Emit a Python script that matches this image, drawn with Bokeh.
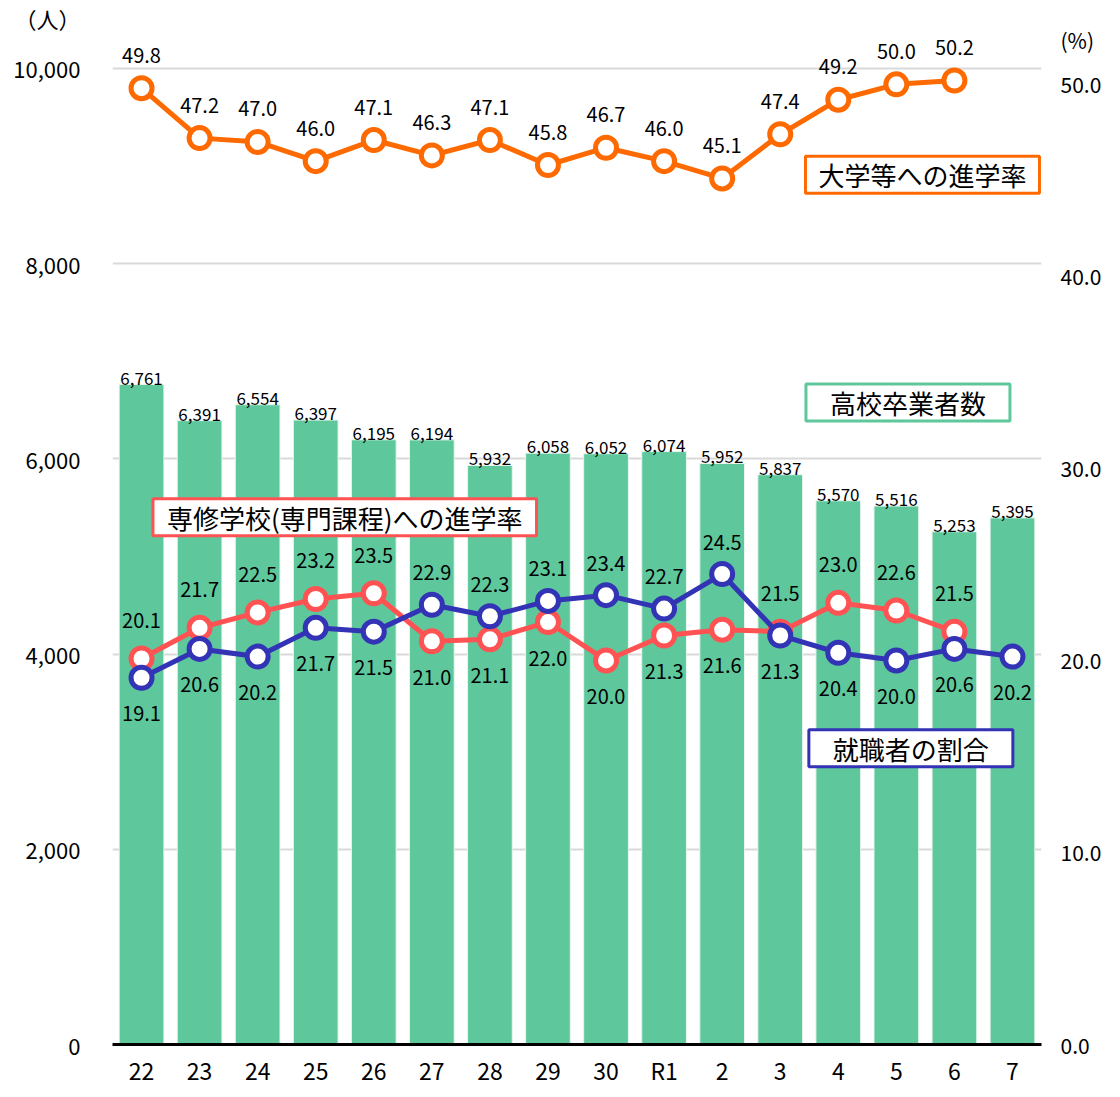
from bokeh.plotting import figure
from bokeh.models import (FactorRange, Range1d, LinearAxis, NumeralTickFormatter,
                          ColumnDataSource, LabelSet, Label, FixedTicker)
from bokeh.core.properties import value
from bokeh.embed import file_html
from bokeh.resources import INLINE

years = ["22", "23", "24", "25", "26", "27", "28", "29", "30", "R1", "2", "3", "4", "5", "6", "7"]
graduates = [6761, 6391, 6554, 6397, 6195, 6194, 5932, 6058, 6052, 6074, 5952, 5837, 5570, 5516, 5253, 5395]
univ_rate = [49.8, 47.2, 47.0, 46.0, 47.1, 46.3, 47.1, 45.8, 46.7, 46.0, 45.1, 47.4, 49.2, 50.0, 50.2]
senshu_rate = [20.1, 21.7, 22.5, 23.2, 23.5, 21.0, 21.1, 22.0, 20.0, 21.3, 21.6, 21.5, 23.0, 22.6, 21.5]
job_rate = [19.1, 20.6, 20.2, 21.7, 21.5, 22.9, 22.3, 23.1, 23.4, 22.7, 24.5, 21.3, 20.4, 20.0, 20.6, 20.2]
left_ticks = [0, 2000, 4000, 6000, 8000, 10000]
right_ticks = [0, 10, 20, 30, 40, 50]
left_unit = "（人）"
right_unit = "(%)"

FONT = "Noto Sans CJK JP"
GREEN = "#5EC89C"
ORANGE = "#FF6A00"
RED = "#FF5252"
BLUE = "#3333B5"

# frame reaches up near the top edge so the labels of the top line are not clipped
LEFT_MAX = 10613
RIGHT_MAX = 53.95
LEFT_UNIT_POS = 10511
RIGHT_UNIT_POS = 52.3

p = figure(x_range=FactorRange(*years), y_range=Range1d(0, LEFT_MAX),
           width=1104, height=1089, output_backend="svg", toolbar_location=None,
           min_border_left=112, min_border_right=61, min_border_top=8, min_border_bottom=43)
p.extra_y_ranges = {"pct": Range1d(0, RIGHT_MAX)}
p.outline_line_color = None
p.background_fill_color = "white"
p.border_fill_color = "white"
p.xgrid.grid_line_color = None
p.ygrid.grid_line_color = "#D9D9D9"
p.ygrid.grid_line_width = 2
p.ygrid.ticker = FixedTicker(ticks=left_ticks)

# left axis (unit caption shown as an extra labelled tick)
p.yaxis.ticker = FixedTicker(ticks=left_ticks + [LEFT_UNIT_POS])
p.yaxis.formatter = NumeralTickFormatter(format="0,0")
p.yaxis.major_label_overrides = {LEFT_UNIT_POS: left_unit}
p.yaxis.axis_line_color = None
p.yaxis.major_tick_line_color = None
p.yaxis.minor_tick_line_color = None
p.yaxis.major_tick_out = 0
p.yaxis.major_tick_in = 0
p.yaxis.minor_tick_out = 0
p.yaxis.major_label_text_font = FONT
p.yaxis.major_label_text_font_size = "22px"
p.yaxis.major_label_text_color = "black"
p.yaxis.major_label_standoff = 32

# x axis
p.xaxis.axis_line_color = "black"
p.xaxis.axis_line_width = 3
p.xaxis.major_tick_line_color = None
p.xaxis.minor_tick_line_color = None
p.xaxis.major_tick_out = 0
p.xaxis.major_tick_in = 0
p.xaxis.major_label_text_font = FONT
p.xaxis.major_label_text_font_size = "23px"
p.xaxis.major_label_text_color = "black"
p.xaxis.major_label_standoff = 8

# right axis
ra = LinearAxis(y_range_name="pct", ticker=FixedTicker(ticks=right_ticks + [RIGHT_UNIT_POS]),
                formatter=NumeralTickFormatter(format="0.0"))
ra.major_label_overrides = {RIGHT_UNIT_POS: right_unit}
ra.axis_line_color = None
ra.major_tick_line_color = None
ra.minor_tick_line_color = None
ra.major_tick_out = 0
ra.major_tick_in = 0
ra.minor_tick_out = 0
ra.major_label_text_font = FONT
ra.major_label_text_font_size = "21px"
ra.major_label_text_color = "black"
ra.major_label_standoff = 19
p.add_layout(ra, "right")

# bars
bar_src = ColumnDataSource(dict(year=years, n=graduates, lab=[f"{v:,}" for v in graduates]))
p.vbar(x="year", top="n", width=0.77, source=bar_src, fill_color=GREEN,
       line_color="#E6F6EE", line_width=1)
p.add_layout(LabelSet(x="year", y="n", text="lab", source=bar_src, text_align="center",
                      text_baseline="bottom", y_offset=0, text_font=value(FONT),
                      text_font_size="17px", text_color="black"))

# lines
def series(x, y, color):
    src = ColumnDataSource(dict(x=x, y=y, lab=[f"{v:.1f}" for v in y]))
    p.line("x", "y", source=src, y_range_name="pct", line_color=color, line_width=5)
    p.scatter("x", "y", source=src, y_range_name="pct", size=21, fill_color="white",
              line_color=color, line_width=5)
    return src

up_src = series(years[:15], univ_rate, ORANGE)
sen_src = series(years[:15], senshu_rate, RED)
job_src = series(years, job_rate, BLUE)

p.add_layout(LabelSet(x="x", y="y", text="lab", source=up_src, y_range_name="pct",
                      text_align="center", text_baseline="middle", y_offset=33,
                      text_font=value(FONT), text_font_size="20px", text_color="black"))

# red/blue labels: the higher series of the pair is labelled above, the lower below
sen_up = dict(x=[], y=[], lab=[])
sen_dn = dict(x=[], y=[], lab=[])
job_up = dict(x=[], y=[], lab=[])
job_dn = dict(x=[], y=[], lab=[])
for i, yr in enumerate(years):
    j = job_rate[i]
    if i < len(senshu_rate):
        s = senshu_rate[i]
        tgt = sen_up if s >= j else sen_dn
        tgt["x"].append(yr); tgt["y"].append(s); tgt["lab"].append(f"{s:.1f}")
        tgt = job_dn if s >= j else job_up
    else:
        tgt = job_dn
    tgt["x"].append(yr); tgt["y"].append(j); tgt["lab"].append(f"{j:.1f}")

for d, off in [(sen_up, 38), (sen_dn, -36), (job_up, 32), (job_dn, -36)]:
    p.add_layout(LabelSet(x="x", y="y", text="lab", source=ColumnDataSource(d),
                          y_range_name="pct", text_align="center", text_baseline="middle",
                          y_offset=off, text_font=value(FONT), text_font_size="20px",
                          text_color="black"))

# legend boxes
def box(text, x, y, color, padx):
    p.add_layout(Label(x=x, y=y, text=text, text_align="center", text_baseline="middle",
                       text_font=FONT, text_font_size="26px", text_color="black",
                       background_fill_color="white", border_line_color=color,
                       border_line_width=3,
                       padding=dict(left=padx, right=padx, top=0, bottom=0)))

box("大学等への進学率", 13.95, 8910, ORANGE, 13)
box("高校卒業者数", 13.70, 6578, GREEN, 24)
box("専修学校(専門課程)への進学率", 4.00, 5402, RED, 14)
box("就職者の割合", 13.75, 3035, BLUE, 24)

open("out.html", "w").write(file_html(p, INLINE))
